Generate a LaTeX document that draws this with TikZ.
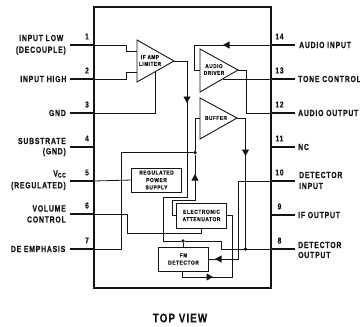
\documentclass[tikz,border=0pt]{standalone}
\usepackage{fontspec}
\usetikzlibrary{arrows.meta}
\newfontfamily\labfont[FakeStretch=0.78,LetterSpace=9,FakeBold=0.5]{Liberation Sans Bold}
\newfontfamily\smallfont[FakeStretch=0.85,LetterSpace=9,FakeBold=0.4]{Liberation Sans Bold}
\definecolor{ink}{HTML}{141414}
\tikzset{
  pkg/.style={draw=ink,line width=1.6bp},
  pinline/.style={draw=ink,line width=1.6bp},
  wire/.style={draw=ink,line width=0.8bp},
  amp/.style={draw=ink,line width=0.9bp,fill=white,line join=miter},
  block/.style={draw=ink,line width=1bp,fill=white,inner sep=0pt,align=center,text=ink,font=\smallfont\fontsize{5.8bp}{7.4bp}\selectfont},
  ampt/.style={inner sep=0pt,align=center,text=ink,font=\smallfont\fontsize{5.6bp}{6.8bp}\selectfont},
  lab/.style={inner sep=0pt,text=ink,font=\labfont\fontsize{8.8bp}{11bp}\selectfont},
  leftlab/.style={lab,anchor=east},
  rightlab/.style={lab,anchor=west},
  num/.style={inner sep=0pt,text=ink,font=\labfont\fontsize{8.5bp}{10bp}\selectfont},
  head/.style={-{Triangle[length=6.5bp,width=7bp]}},
  dot/.style={circle,fill=ink,inner sep=0pt,minimum size=3.6bp},
}
\begin{document}
\begin{tikzpicture}[x=1bp,y=-1bp]
\useasboundingbox (0,0) rectangle (360,327);
% package
\draw[pkg] (94,7) rectangle (271,288);
% pin coordinates
\foreach \n/\yy in {1/45,2/79,3/113,4/147,5/181,6/214,7/249}{
  \coordinate (L\n) at (94,\yy);
  \coordinate (LE\n) at (70,\yy);
  \draw[pinline] (LE\n) -- (L\n);
  \node[num] at (87,\yy-8.5) {\n};
}
\foreach \n/\yy in {14/45,13/79,12/113,11/147,10/181,9/215,8/249}{
  \coordinate (R\n) at (271,\yy);
  \coordinate (RE\n) at (295,\yy);
  \draw[pinline] (R\n) -- (RE\n);
  \node[num] at (279.5,\yy-8.5) {\n};
}
% blocks
\node[block,minimum width=49bp,minimum height=24bp] (rps) at (156.5,180) {REGULATED\\POWER\\SUPPLY};
\node[block,minimum width=49bp,minimum height=25bp] (att) at (201.5,215.5) {ELECTRONIC\\ATTENUATOR};
\node[block,minimum width=49bp,minimum height=24bp] (fm) at (183.5,259) {FM\\DETECTOR};
% amplifiers' corners
\coordinate (ifa) at (137,40); \coordinate (ifb) at (137,82); \coordinate (ifo) at (174,61);
\coordinate (ada) at (200,49); \coordinate (adb) at (200,92); \coordinate (ado) at (238,70);
\coordinate (bua) at (200,98); \coordinate (bub) at (200,139); \coordinate (buo) at (237,118);
% junctions
\node[dot] (j1) at (195,152.5) {};
\node[dot] (j2) at (245.5,249) {};
\node[dot] (j3) at (183,241) {};
% wires
\draw[wire] (L1) -- (126,45) -- (126,51) -- (137,51);
\draw[wire] (L2) -- (126,79) -- (126,72) -- (137,72);
\draw[wire] (L3) -- (155,113) -- (155,72);
\draw[wire] (L5) -- (rps.west);
\draw[wire] (L6) -- (127,214) -- (127,233) -- (201,233) -- (201,228);
\draw[wire] (L7) -- (121,249) -- (121,152.5) -- (j1);
\draw[wire] (ifo) -- (187,61) -- (187,197) -- (163,197) -- (163,241) -- (j3);
\draw[wire,head] (187,61) -- (187,103);
\draw[wire] (j3) -- (221,241) -- (221,249) -- (R8);
\draw[wire] (j3) -- (fm.north -| j3);
\draw[wire] (buo) -- (245.5,118) -- (j2);
\draw[wire,head] (245.5,118) -- (245.5,156);
\draw[wire] (bua |- buo) -- (195,118) -- (j1);
\draw[wire] (att.west) -- (172,215.5) -- (172,200) -- (195,200) -- (j1);
\draw[wire,head] (195,200) -- (195,174);
\draw[wire] (att.east) -- (232,215.5) -- (232,277) -- (182,277) -- (182,271);
\draw[wire,head] (182,277) -- (213,277);
\draw[wire] (R10) -- (238,181) -- (238,259) -- (fm.east);
\draw[wire,head] (238,259) -- (215,259);
\draw[wire] (R14) -- (194,45) -- (194,70) -- (200,70);
\draw[wire,head] (R14) -- (223,45);
\draw[wire] (ado) -- (246,70) -- (246,113) -- (R12);
% amplifiers
\draw[amp] (ifa) -- (ifb) -- (ifo) -- cycle;
\draw[amp] (ada) -- (adb) -- (ado) -- cycle;
\draw[amp] (bua) -- (bub) -- (buo) -- cycle;
\node[ampt] (ift) at (150,60.5) {IF AMP\\LIMITER};
\node[ampt] (adt) at (214,69.5) {AUDIO\\DRIVER};
\node[ampt] (but) at (216,118) {BUFFER};
\draw[wire] (R13) -- (223,79);
% left labels
\node[leftlab] (t1) at (63.5,38) {INPUT LOW};
\node[leftlab] (t1b) at (66,50.5) {(DECOUPLE)};
\node[leftlab] (t2) at (66.5,79) {INPUT HIGH};
\node[leftlab] (t3) at (66,113) {GND};
\node[leftlab] (t4) at (66,141) {SUBSTRATE};
\node[leftlab] (t4b) at (66,152) {(GND)};
\node[leftlab] (t5) at (66,174) {V\raisebox{-1bp}{\fontsize{6.5bp}{7bp}\selectfont CC}};
\node[leftlab] (t5b) at (66,186) {(REGULATED)};
\node[leftlab] (t6) at (66,208.5) {VOLUME};
\node[leftlab] (t6b) at (66,219.5) {CONTROL};
\node[leftlab] (t7) at (65.5,249) {DE EMPHASIS};
% right labels
\node[rightlab] (r14) at (299,45) {AUDIO INPUT};
\node[rightlab] (r13) at (298,79) {TONE CONTROL};
\node[rightlab] (r12) at (298,113) {AUDIO OUTPUT};
\node[rightlab] (r11) at (298,147) {NC};
\node[rightlab] (r10) at (299,175) {DETECTOR};
\node[rightlab] (r10b) at (299,186) {INPUT};
\node[rightlab] (r9) at (298,215) {IF OUTPUT};
\node[rightlab] (r8) at (298,245) {DETECTOR};
\node[rightlab] (r8b) at (298,255) {OUTPUT};
\node[lab,font=\labfont\fontsize{12.5bp}{14bp}\selectfont] (tv) at (180,318) {TOP VIEW};
\end{tikzpicture}
\end{document}
